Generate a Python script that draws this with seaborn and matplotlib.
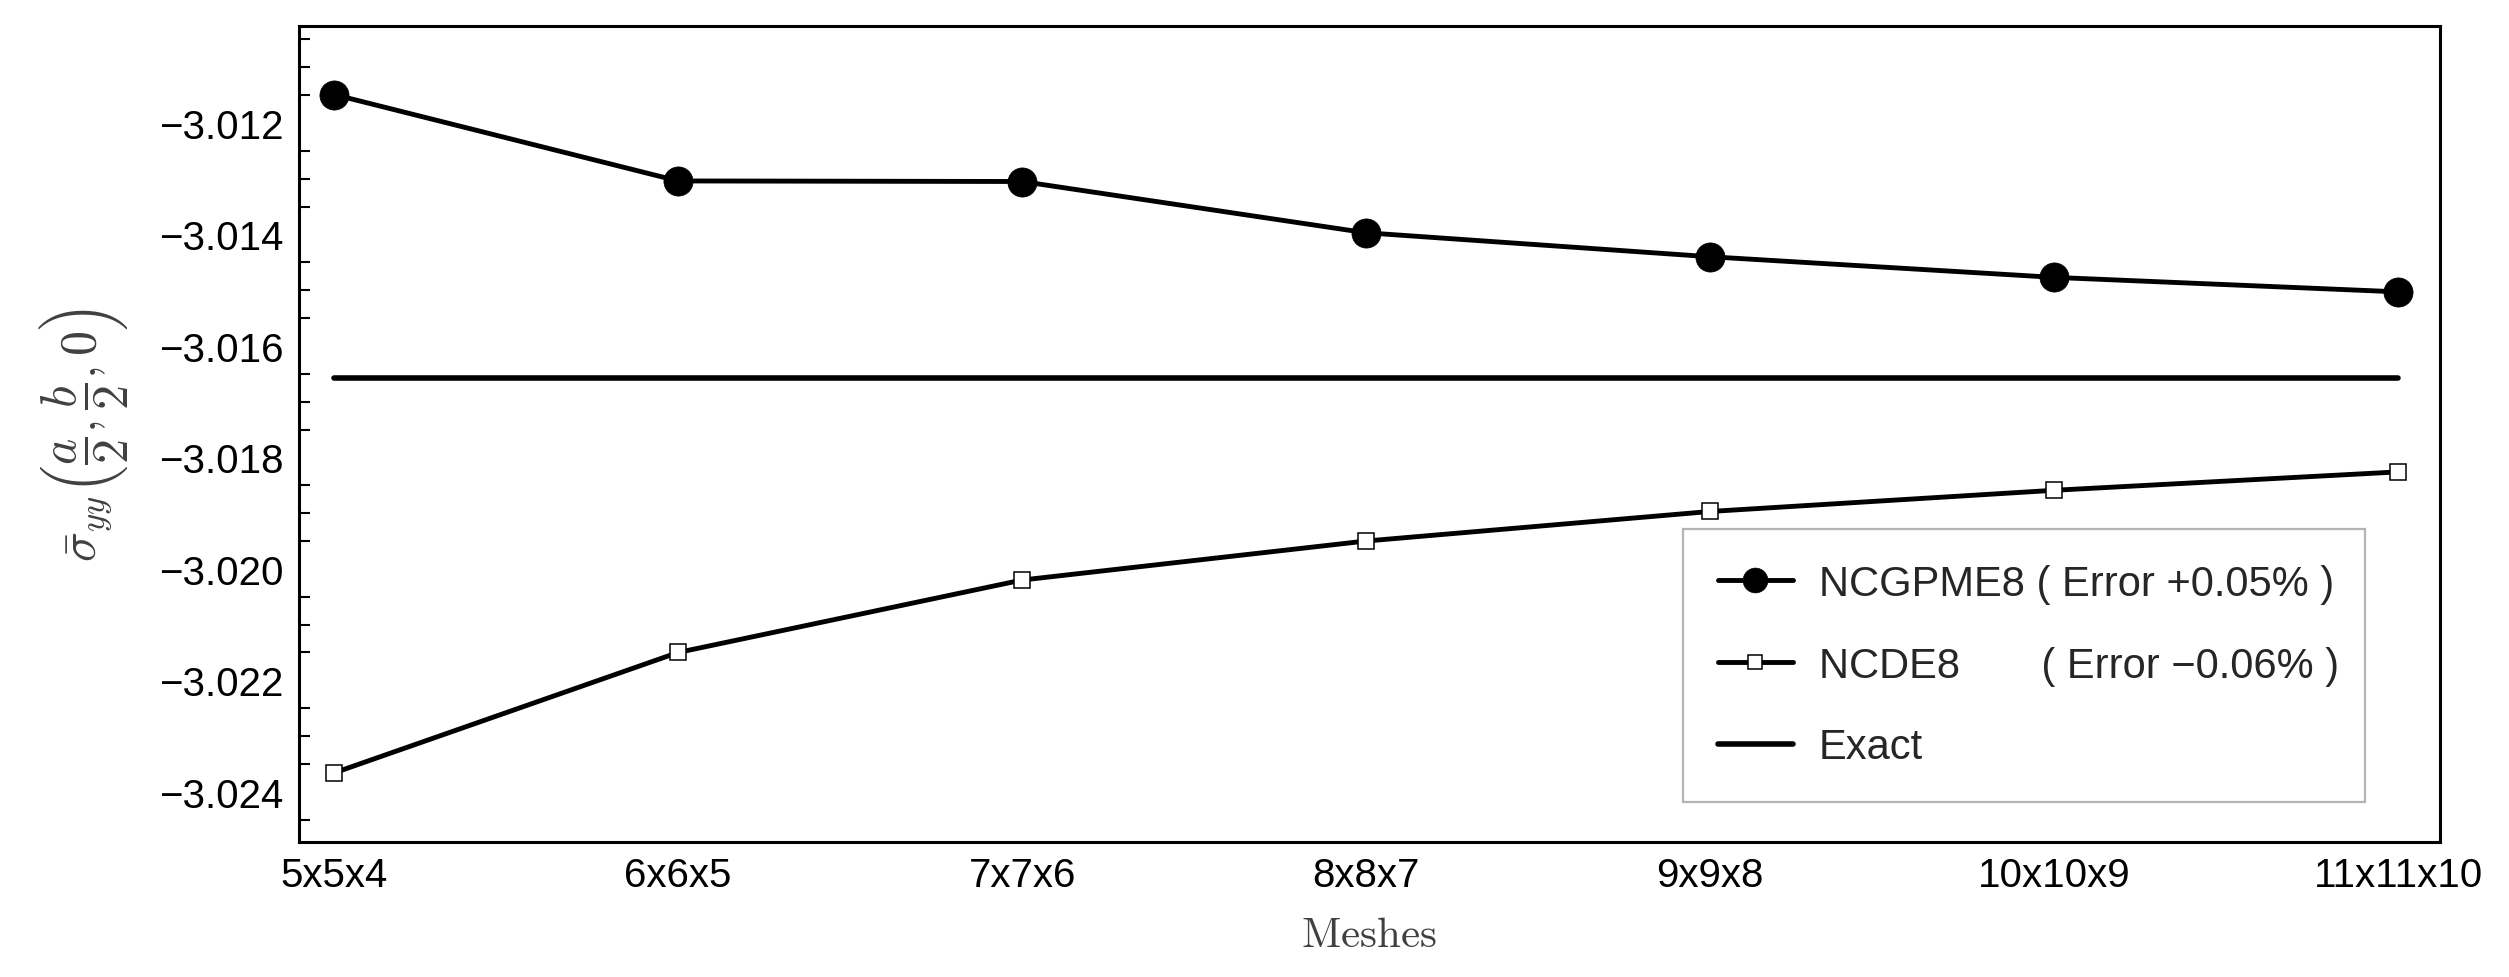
import numpy as np
import pandas as pd
import matplotlib
matplotlib.use("Agg")
import matplotlib.pyplot as plt
import seaborn as sns
from matplotlib.ticker import MultipleLocator, FixedLocator, FuncFormatter

# ---------------- data ----------------
meshes = ["5x5x4", "6x6x5", "7x7x6", "8x8x7", "9x9x8", "10x10x9", "11x11x10"]
ncgpme8 = [-3.01149, -3.01304, -3.01305, -3.01397, -3.01440, -3.01477, -3.01503]
ncde8 = [-3.02366, -3.02150, -3.02020, -3.01950, -3.01897, -3.01859, -3.01826]
exact_value = -3.01658
y_ticks = [-3.024, -3.022, -3.020, -3.018, -3.016, -3.014, -3.012]
label_gpme = "NCGPME8 ( Error +0.05% )"
label_de = "NCDE8       ( Error \u22120.06% )"
label_exact = "Exact"

# ---------------- style ----------------
sns.set_theme(style="white")
plt.rcParams["font.family"] = ["Liberation Sans", "DejaVu Sans"]
plt.rcParams["mathtext.fontset"] = "cm"
plt.rcParams["axes.unicode_minus"] = True

fig = plt.figure(figsize=(25.09, 9.78), dpi=100)
ax = fig.add_axes([0.11917, 0.13804, 0.85333, 0.83436])

pos = np.arange(len(meshes))
df = pd.DataFrame({"pos": pos, "gpme": ncgpme8, "de": ncde8,
                   "exact": [exact_value] * len(meshes)})

sns.lineplot(data=df, x="pos", y="exact", ax=ax, color="black", lw=4.0,
             sort=False, label=label_exact, zorder=2)
sns.lineplot(data=df, x="pos", y="gpme", ax=ax, color="black", lw=3.5,
             marker="o", markersize=21, markeredgecolor="black",
             markerfacecolor="black", markeredgewidth=0.5,
             sort=False, label=label_gpme, zorder=3)
sns.lineplot(data=df, x="pos", y="de", ax=ax, color="black", lw=3.5,
             marker="s", markersize=11.5, markeredgecolor="black",
             markerfacecolor="white", markeredgewidth=1.1,
             sort=False, label=label_de, zorder=3)

ax.set_xlim(-0.102, 6.122)
ax.set_ylim(-3.02490, -3.01026)

ax.xaxis.set_major_locator(FixedLocator(pos))
ax.set_xticklabels(meshes)
ax.yaxis.set_major_locator(FixedLocator(y_ticks))
ax.yaxis.set_minor_locator(MultipleLocator(0.0005))
ax.yaxis.set_major_formatter(FuncFormatter(
    lambda v, p: ("\u2212" if v < 0 else "") + f"{abs(v):.3f}"))

ax.tick_params(axis="both", which="both", direction="in", top=False,
               right=False, colors="black", labelsize=29)
ax.tick_params(axis="x", which="major", length=13, width=1.8, pad=10)
ax.tick_params(axis="y", which="major", length=14, width=1.8, pad=11)
ax.tick_params(axis="y", which="minor", length=8, width=1.5, left=True)
ax.tick_params(axis="x", which="minor", bottom=False)

for s in ax.spines.values():
    s.set_visible(True)
    s.set_color("black")
    s.set_linewidth(2.2)

ax.set_xlabel(r"$\mathrm{Meshes}$", fontsize=31, color="#404040")
ax.xaxis.set_label_coords(0.5, -0.09)
ax.set_ylabel(r"$\bar{\sigma}_{yy}\left(\dfrac{a}{2},\dfrac{b}{2},0\right)$",
              fontsize=36, color="#404040")
ax.yaxis.set_label_coords(-0.079, 0.5)

handles, labels = ax.get_legend_handles_labels()
order = [labels.index(label_gpme), labels.index(label_de), labels.index(label_exact)]
leg = ax.legend([handles[i] for i in order], [labels[i] for i in order],
                loc="upper left", bbox_to_anchor=(0.6464, 0.3836, 0.3186, 0.0),
                mode="expand", fontsize=30, frameon=True, fancybox=False,
                borderpad=0.84, labelspacing=1.0, handlelength=1.8,
                handletextpad=0.62, borderaxespad=0.0, markerscale=0.85)
leg.get_frame().set_edgecolor("#b4b4b4")
leg.get_frame().set_linewidth(1.6)
leg.get_frame().set_facecolor("white")
leg.get_frame().set_alpha(1.0)

fig.savefig("out.png", dpi=100, facecolor="white")
